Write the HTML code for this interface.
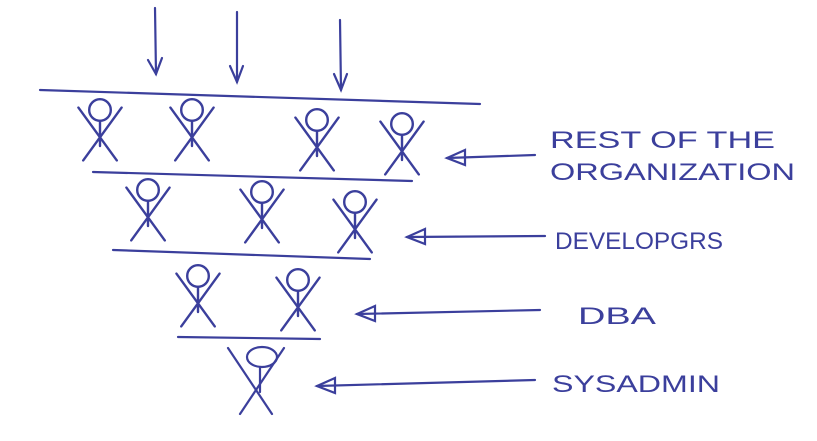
<!DOCTYPE html>
<html><head><meta charset="utf-8"><style>
html,body{margin:0;padding:0;background:#fff;}
svg{display:block}
text{font-family:"Liberation Sans",sans-serif;fill:#3b3f9c;font-size:24px}
</style></head><body>
<svg width="817" height="441" viewBox="0 0 817 441" xmlns="http://www.w3.org/2000/svg">
<defs>
<g id="fig" stroke="#3b3f9c" stroke-width="2" fill="none" stroke-linecap="round">
<circle cx="0" cy="0" r="9"/>
<line x1="0" y1="9" x2="0" y2="30"/>
<line x1="-18" y1="-2" x2="14" y2="42"/>
<line x1="18" y1="-2" x2="-14" y2="42"/>
</g>
</defs>
<g stroke="#3b3f9c" stroke-width="2.2" fill="none" stroke-linecap="round">
<line x1="155" y1="8" x2="156" y2="74"/><polyline points="148,60 156,74 162,58"/>
<line x1="237" y1="12" x2="237" y2="82"/><polyline points="230,66 237,82 243,66"/>
<line x1="340" y1="20" x2="341" y2="90"/><polyline points="334,74 341,90 347,74"/>
<line x1="40" y1="90" x2="480" y2="104"/>
<line x1="93" y1="172" x2="412" y2="181"/>
<line x1="113" y1="250" x2="370" y2="259"/>
<line x1="178" y1="337" x2="320" y2="339"/>
<line x1="535" y1="155" x2="447" y2="158"/><polygon points="465,150 447,158 465,165"/>
<line x1="545" y1="236" x2="407" y2="237"/><polygon points="425,229 407,237 425,244"/>
<line x1="540" y1="310" x2="357" y2="314"/><polygon points="375,306 357,314 375,321"/>
<line x1="535" y1="380" x2="317" y2="386"/><polygon points="335,378 317,386 335,393"/>
</g>
<use href="#fig" transform="translate(100,110) scale(1.2)"/>
<use href="#fig" transform="translate(192,110) scale(1.2)"/>
<use href="#fig" transform="translate(317,120) scale(1.2)"/>
<use href="#fig" transform="translate(402,124) scale(1.2)"/>
<use href="#fig" transform="translate(148,190) scale(1.2)"/>
<use href="#fig" transform="translate(262,192) scale(1.2)"/>
<use href="#fig" transform="translate(355,202) scale(1.2)"/>
<use href="#fig" transform="translate(198,276) scale(1.2)"/>
<use href="#fig" transform="translate(298,280) scale(1.2)"/>
<g stroke="#3b3f9c" stroke-width="2.2" fill="none" stroke-linecap="round">
<ellipse cx="262" cy="357" rx="15" ry="10"/>
<line x1="260" y1="367" x2="260" y2="392"/>
<line x1="228" y1="348" x2="272" y2="414"/>
<line x1="284" y1="348" x2="240" y2="414"/>
</g>
<text x="550" y="148" textLength="225" lengthAdjust="spacingAndGlyphs">REST OF THE</text>
<text x="550" y="180" textLength="245" lengthAdjust="spacingAndGlyphs">ORGANIZATION</text>
<text x="555" y="249" textLength="168" lengthAdjust="spacingAndGlyphs">DEVELOPGRS</text>
<text x="578" y="324" textLength="78" lengthAdjust="spacingAndGlyphs">DBA</text>
<text x="552" y="392" textLength="168" lengthAdjust="spacingAndGlyphs">SYSADMIN</text>
</svg>
</body></html>
